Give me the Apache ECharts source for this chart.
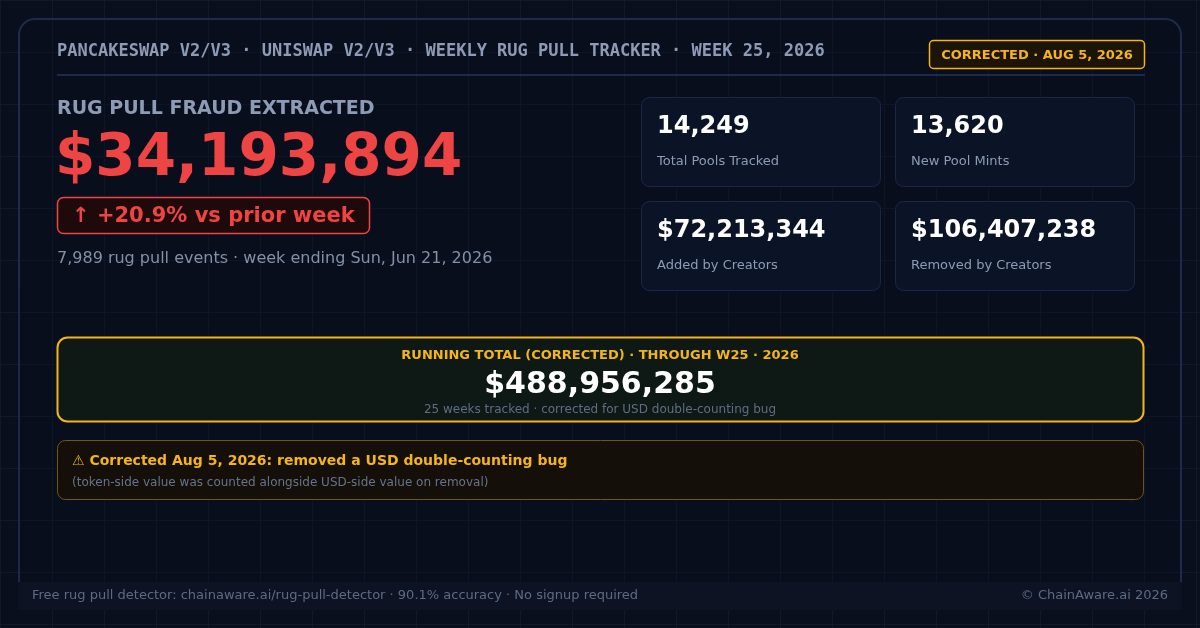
<!DOCTYPE html>
<html>
<head>
<meta charset="utf-8">
<script src="https://cdn.jsdelivr.net/npm/echarts@6/dist/echarts.min.js"></script>
<style>
html,body{margin:0;padding:0;background:#0a0f1d;}
#chart{width:1200px;height:628px;}
</style>
</head>
<body>
<div id="chart"></div>
<script>
// ---- data ----
const headerParts = ['PANCAKESWAP V2/V3', 'UNISWAP V2/V3', 'WEEKLY RUG PULL TRACKER', 'WEEK 25, 2026'];
const correctionDate = ['Aug 5, 2026'];
const headline = ['RUG PULL FRAUD EXTRACTED'];
const fraudExtracted = [34193894];
const weekChangePct = [20.9];
const rugEvents = [7989];
const weekEnding = ['Sun, Jun 21, 2026'];
const statLabels = ['Total Pools Tracked', 'New Pool Mints', 'Added by Creators', 'Removed by Creators'];
const statValues = [14249, 13620, 72213344, 106407238];
const statIsUsd = [false, false, true, true];
const runningTotal = [488956285];
const weeksTracked = [25];
const throughWeek = ['W25', '2026'];
const footerLeft = ['Free rug pull detector: chainaware.ai/rug-pull-detector', '90.1% accuracy', 'No signup required'];
const footerRight = ['© ChainAware.ai 2026'];

// ---- helpers ----
const fmt = v => v.toLocaleString('en-US');
const SANS = '"DejaVu Sans", "Noto Sans", sans-serif';
const MONO = '"DejaVu Sans Mono", monospace';
const DOT = ' \u00b7 ';

function txt(x, y, text, size, weight, color, family, align) {
  return {
    type: 'text', x: x, y: y, z: 10,
    style: {
      text: text, fill: color, fontSize: size, fontWeight: weight,
      fontFamily: family || SANS, textAlign: align || 'left', textVerticalAlign: 'middle'
    }
  };
}
function box(x, y, w, h, r, fill, stroke, lw) {
  return {
    type: 'rect', z: 5,
    shape: { x: x, y: y, width: w, height: h, r: r },
    style: { fill: fill, stroke: stroke, lineWidth: lw || 1 }
  };
}

const g = [];
// outer card
g.push(box(19, 19, 1162, 590, 16, 'rgba(10,15,29,0.35)', '#1c2b4a', 2));
// header
g.push(txt(57, 52, headerParts.join(DOT), 17, 'bold', '#8d9bb5', MONO));
g.push({ type: 'line', z: 5, shape: { x1: 57, y1: 75, x2: 1145, y2: 75 }, style: { stroke: '#1c2b4a', lineWidth: 2 } });
g.push(box(929.5, 40.5, 215, 28, 4, '#1c1409', '#f5b418', 1.5));
g.push(txt(1037, 56, 'CORRECTED' + DOT + correctionDate[0].toUpperCase(), 13, 'bold', '#f5b418', SANS, 'center'));

// headline block
g.push(txt(57, 109, headline[0], 19, 'bold', '#8d9bb5'));
g.push(txt(55, 160, '$' + fmt(fraudExtracted[0]), 58, 'bold', '#ef4444'));
g.push(box(57.5, 197.5, 312, 36, 6, '#1f0a0b', '#ef4444', 1.5));
g.push(txt(72, 217, '\u2191 +' + weekChangePct[0].toFixed(1) + '% vs prior week', 21, 'bold', '#f04444'));
g.push(txt(57, 259, fmt(rugEvents[0]) + ' rug pull events' + DOT + 'week ending ' + weekEnding[0], 16, 'normal', '#8390a6'));

// stat cards
statLabels.forEach((lab, i) => {
  const col = i % 2, row = Math.floor(i / 2);
  const x = 641 + col * 254, y = 97 + row * 104;
  g.push(box(x + 0.5, y + 0.5, 239, 89, 8, '#0b1427', '#1a2846', 1));
  g.push(txt(x + 16, y + 30, (statIsUsd[i] ? '$' : '') + fmt(statValues[i]), 24, 'bold', '#ffffff'));
  g.push(txt(x + 16, y + 65, lab, 13, 'normal', '#8d9bb5'));
});

// running total
g.push(box(57.5, 337.5, 1086, 84, 10, '#0e1814', '#f5b418', 2));
g.push(txt(600, 356, 'RUNNING TOTAL (CORRECTED)' + DOT + 'THROUGH ' + throughWeek.join(DOT), 13, 'bold', '#f5b418', SANS, 'center'));
g.push(txt(600, 385, '$' + fmt(runningTotal[0]), 30, 'bold', '#ffffff', SANS, 'center'));
g.push(txt(600, 410, weeksTracked[0] + ' weeks tracked' + DOT + 'corrected for USD double-counting bug', 12, 'normal', '#5f6d84', SANS, 'center'));

// warning box
g.push(box(57.5, 440.5, 1086, 59, 8, '#150f09', '#73550f', 1));
g.push(txt(72, 461, '\u26a0 Corrected ' + correctionDate[0] + ': removed a USD double-counting bug', 14, 'bold', '#f5b418'));
g.push(txt(72, 483, '(token-side value was counted alongside USD-side value on removal)', 12, 'normal', '#66748a'));

// footer band
g.push({ type: 'rect', z: 6, shape: { x: 18, y: 582, width: 1164, height: 28 }, style: { fill: '#0d1322' } });
g.push(txt(32, 596, footerLeft.join(DOT), 13, 'normal', '#5c6b84'));
g.push(txt(1168, 596, footerRight[0], 13, 'normal', '#5c6b84', SANS, 'right'));

const chart = echarts.init(document.getElementById('chart'), null, { renderer: 'canvas' });
chart.setOption({
  backgroundColor: '#0a0f1d',
  animation: false,
  grid: { left: 0, right: 0, top: 0, bottom: 0 },
  xAxis: {
    type: 'value', min: 0, max: 1200, interval: 52,
    axisLine: { show: false }, axisTick: { show: false }, axisLabel: { show: false },
    splitLine: { show: true, lineStyle: { color: '#101a2d', width: 1 } }
  },
  yAxis: {
    type: 'value', min: 0, max: 628, interval: 52, inverse: true,
    axisLine: { show: false }, axisTick: { show: false }, axisLabel: { show: false },
    splitLine: { show: true, lineStyle: { color: '#101a2d', width: 1 } }
  },
  series: [{ type: 'scatter', data: [], silent: true }],
  graphic: { elements: g }
});
</script>
</body>
</html>
